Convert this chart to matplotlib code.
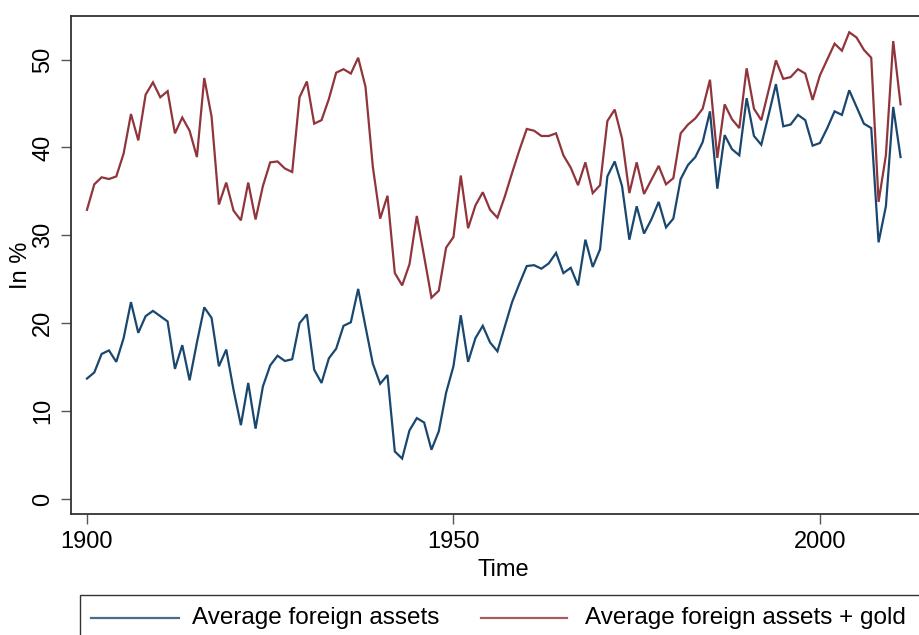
import matplotlib
matplotlib.use("Agg")
import matplotlib.pyplot as plt
from matplotlib.patches import Rectangle
from matplotlib.lines import Line2D

years = list(range(1900, 2012))

foreign_assets = [
    13.7, 14.4, 16.5, 16.9, 15.6, 18.3, 22.4, 18.9, 20.8, 21.4,
    20.8, 20.2, 14.8, 17.5, 13.5, 17.8, 21.8, 20.6, 15.1, 17.0,
    12.4, 8.4, 13.2, 8.0, 12.8, 15.2, 16.3, 15.7, 15.9, 20.0,
    21.0, 14.7, 13.2, 16.0, 17.1, 19.7, 20.1, 23.9, 19.6, 15.4,
    13.1, 14.1, 5.4, 4.6, 7.8, 9.2, 8.7, 5.6, 7.7, 12.1,
    15.1, 20.9, 15.6, 18.3, 19.7, 17.8, 16.8, 19.6, 22.4, 24.5,
    26.5, 26.6, 26.2, 26.8, 28.0, 25.7, 26.3, 24.3, 29.5, 26.4,
    28.4, 36.7, 38.4, 35.6, 29.5, 33.3, 30.2, 31.8, 33.8, 30.9,
    31.9, 36.4, 38.0, 38.9, 40.6, 44.1, 35.3, 41.4, 39.8, 39.1,
    45.6, 41.3, 40.3, 43.7, 47.2, 42.4, 42.6, 43.7, 43.1, 40.2,
    40.5, 42.2, 44.1, 43.7, 46.5, 44.6, 42.7, 42.2, 29.2, 33.3,
    44.6, 38.9,
]

foreign_assets_gold = [
    32.9, 35.8, 36.6, 36.4, 36.7, 39.3, 43.8, 40.8, 46.0, 47.4,
    45.7, 46.4, 41.6, 43.4, 41.9, 38.9, 47.9, 43.5, 33.5, 36.0,
    32.8, 31.7, 36.0, 31.8, 35.6, 38.3, 38.4, 37.6, 37.2, 45.7,
    47.5, 42.7, 43.1, 45.5, 48.5, 48.9, 48.4, 50.2, 46.9, 37.8,
    31.9, 34.5, 25.7, 24.3, 26.7, 32.2, 27.6, 22.9, 23.7, 28.6,
    29.8, 36.8, 30.8, 33.4, 34.9, 32.9, 32.0, 34.4, 37.1, 39.7,
    42.1, 41.9, 41.3, 41.3, 41.6, 39.1, 37.7, 35.7, 38.3, 34.8,
    35.7, 43.0, 44.3, 41.0, 34.8, 38.3, 34.7, 36.3, 37.9, 35.8,
    36.5, 41.6, 42.6, 43.3, 44.4, 47.7, 38.8, 44.9, 43.2, 42.2,
    49.0, 44.4, 43.1, 46.5, 49.9, 47.8, 48.0, 48.9, 48.4, 45.4,
    48.2, 50.0, 51.8, 51.0, 53.1, 52.5, 51.1, 50.2, 33.8, 39.1,
    52.1, 44.9,
]

x_ticks = [1900, 1950, 2000]
y_ticks = [0, 10, 20, 30, 40, 50]
series_labels = ["Average foreign assets", "Average foreign assets + gold"]

BLUE = "#1a476f"
RED = "#90353b"

plt.rcParams['font.family'] = ['Liberation Sans', 'DejaVu Sans']

W, H = 919, 635
fig = plt.figure(figsize=(W / 100, H / 100), dpi=100)
fig.patch.set_facecolor("white")


def fx(px):
    return px / W


def fy(py):
    return 1 - py / H


left, right, top, bottom = 71, 935, 16, 514
ax = fig.add_axes([fx(left), fy(bottom), (right - left) / W, (bottom - top) / H])

ax.plot(years, foreign_assets, color=BLUE, lw=1.6, solid_joinstyle='miter')
ax.plot(years, foreign_assets_gold, color=RED, lw=1.6, solid_joinstyle='miter')

ax.set_xlim(1897.82, 2015.7)
ax.set_ylim(-1.71, 54.95)
ax.set_xticks(x_ticks)
ax.set_yticks(y_ticks)
ax.set_xticklabels([str(t) for t in x_ticks], fontsize=17)
ax.set_yticklabels([str(t) for t in y_ticks], fontsize=17, rotation=90, va='center')
ax.tick_params(axis='both', length=7, width=1.0, color="#555555")
ax.tick_params(axis='x', pad=5.5)
ax.tick_params(axis='y', pad=5)
for s in ax.spines.values():
    s.set_color("#333333")
    s.set_linewidth(1.3)

ax.set_xlabel("Time", fontsize=17, labelpad=4)
ax.set_ylabel("In %", fontsize=17, labelpad=0)

# legend box
rect = Rectangle((fx(80), fy(660)), fx(900), (660 - 595) / H, transform=fig.transFigure,
                 facecolor="white", edgecolor="#333333", lw=1.0, clip_on=False)
fig.patches.append(rect)
ly = fy(618)
fig.lines.append(Line2D([fx(91), fx(179)], [ly, ly], color=BLUE, lw=1.6, alpha=0.8,
                        transform=fig.transFigure))
fig.text(fx(192), ly, series_labels[0], fontsize=17.5, va='center', ha='left')
fig.lines.append(Line2D([fx(481), fx(567)], [ly, ly], color=RED, lw=1.6, alpha=0.8,
                        transform=fig.transFigure))
fig.text(fx(585), ly, series_labels[1], fontsize=17.5, va='center', ha='left')

fig.savefig("out.png", dpi=100)
